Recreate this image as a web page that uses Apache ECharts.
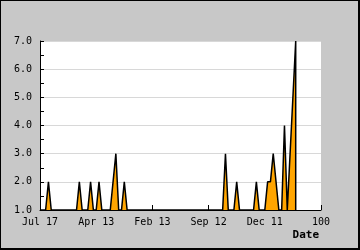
<!DOCTYPE html>
<html><head><meta charset="utf-8">
<script src="https://cdn.jsdelivr.net/npm/echarts@6/dist/echarts.min.js"></script>
<style>
html,body{margin:0;padding:0;background:#c8c8c8;}
#wrap{position:relative;width:360px;height:250px;}
#chart{position:absolute;left:0;top:0;width:360px;height:250px;}
#frame{position:absolute;left:0;top:0;width:357px;height:247px;border-left:1px solid #000;border-top:1px solid #000;border-right:2px solid #000;border-bottom:2px solid #000;pointer-events:none;}
</style></head>
<body><div id="wrap"><div id="chart"></div><div id="frame"></div></div>
<script>
// Data (x position on 0..100 date scale, visits)
const xs = [0, 2, 3, 4, 13, 14, 15, 17, 18, 19, 20, 21, 22, 25, 27, 28, 29, 30, 31, 65, 66, 67, 69, 70, 71, 76, 77, 78, 80, 81, 82, 83, 85, 86, 87, 88, 91, 91];
const visits = [1, 1, 2, 1, 1, 2, 1, 1, 2, 1, 1, 2, 1, 1, 3, 1, 1, 2, 1, 1, 3, 1, 1, 2, 1, 1, 2, 1, 1, 2, 2, 3, 1, 1, 4, 1, 7, 1];
const xTickLabels = ["Jul 17", "Apr 13", "Feb 13", "Sep 12", "Dec 11", "100"];
const yTicks = [1, 2, 3, 4, 5, 6, 7];

const mono = "'DejaVu Sans Mono', monospace";
const chart = echarts.init(document.getElementById('chart'), null, {renderer: 'canvas'});
chart.setOption({
  animation: false,
  backgroundColor: '#c8c8c8',
  grid: {left: 40, right: 39, top: 41, bottom: 40, show: true, backgroundColor: '#ffffff', borderWidth: 0, containLabel: false, outerBoundsMode: 'none'},
  xAxis: {
    type: 'value', min: 0, max: 100, interval: 20,
    axisLine: {show: true, lineStyle: {color: '#000', width: 1}},
    axisTick: {show: true, inside: true, length: 5, lineStyle: {color: '#000'}},
    axisLabel: {color: '#000', fontFamily: mono, fontSize: 10, margin: 7,
      formatter: v => xTickLabels[Math.round(v / 20)]},
    splitLine: {show: false},
    name: 'Date', nameLocation: 'end', nameGap: -2,
    nameTextStyle: {fontFamily: mono, fontSize: 11, fontWeight: 'bold', color: '#000', align: 'right', verticalAlign: 'top', padding: [20, 0, 0, 0]}
  },
  yAxis: {
    type: 'value', min: yTicks[0], max: yTicks[yTicks.length - 1], interval: 1,
    axisLine: {show: true, lineStyle: {color: '#000', width: 1}},
    axisTick: {show: true, inside: true, length: 4, lineStyle: {color: '#000'}},
    minorTick: {show: true, splitNumber: 2, length: 4, lineStyle: {color: '#000'}},
    axisLabel: {color: '#000', fontFamily: mono, fontSize: 10, margin: 8,
      formatter: v => v.toFixed(1)},
    splitLine: {show: true, lineStyle: {color: '#d8d8d8', width: 1}},
    name: 'Vists', nameLocation: 'middle', nameGap: 31,
    nameTextStyle: {fontFamily: mono, fontSize: 11, fontWeight: 'bold', color: '#000'}
  },
  series: [{
    type: 'line',
    data: xs.map((x, i) => [x, visits[i]]),
    showSymbol: false, symbol: 'none',
    lineStyle: {color: '#000', width: 1.5},
    areaStyle: {color: '#ffa500', opacity: 1},
    itemStyle: {color: '#000'}
  }]
});
</script></body></html>
